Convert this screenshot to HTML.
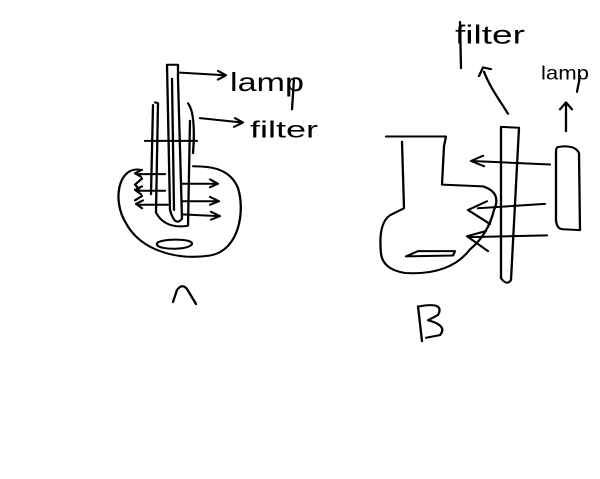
<!DOCTYPE html>
<html><head><style>html,body{margin:0;padding:0;background:#fff}svg{display:block}</style></head>
<body>
<svg width="600" height="479" viewBox="0 0 600 479" xmlns="http://www.w3.org/2000/svg">
<g transform="scale(1,0.875)">
<g fill="none" stroke="#000" stroke-width="2.3" stroke-linecap="round" stroke-linejoin="round">
<!-- A: lamp tube -->
<path d="M167,74 L178,74 L178,90 M167,74 L170,240 Q175,260 182,250 L178,90"/>
<path d="M172,90 L174,240"/>
<!-- A filter -->
<path d="M155,117 L158,118 L156,243 Q165,262 188,258 L190,138 M188,118 Q196,130 193,175"/>
<path d="M153,120 L151,222"/>
<path d="M145,161 L197,161"/>
<!-- A flask -->
<path d="M140,194 C118,190 112,230 126,255 C140,285 175,298 210,292 C240,286 245,240 238,215 C230,192 210,190 193,190"/>
<path d="M157,278 C160,273 190,272 192,278 C192,286 160,286 157,280 Z"/>
<!-- A arrows left -->
<path d="M165,199 L136,199 M142,194 L135,198 L141,202"/>
<path d="M165,218 L136,218 M142,213 L135,217 L141,222"/>
<path d="M168,234 L138,234 M143,229 L136,233 L142,238"/>
<path d="M142,204 L135,211 L139,216 M142,224 L135,229"/>
<!-- A arrows right -->
<path d="M182,210 L217,210 M210,205 L218,210 L210,214"/>
<path d="M182,230 L218,230 M210,225 L219,230 L210,234"/>
<path d="M182,245 L219,247 M211,242 L220,247 L211,251"/>
<!-- A label arrows -->
<path d="M180,83 L225,86 M218,81 L226,86 L218,91"/>
<path d="M200,135 L242,140 M235,135 L243,140 L234,145"/>
<path d="M294,90 L292,125"/>

<!-- B flask -->
<path d="M386,156 L446,156 L444,167 L442,211 L483,213 Q502,220 494,240 Q488,268 470,285 Q450,315 405,312 Q383,308 381,290 Q378,255 390,246 L404,238 L402,162"/>
<path d="M406,293 L418,287 L455,287 L453,292 Z"/>
<!-- B filter -->
<path d="M501,145 L519,146 L511,320 Q507,327 501,318 Z"/>
<!-- B lamp -->
<path d="M558,168 Q575,165 579,175 L580,263 L563,262 Q557,262 556,252 L556,175 Q556,168 558,168 Z"/>
<!-- B arrows -->
<path d="M550,188 L472,184 M483,178 L471,184 L484,190"/>
<path d="M545,233 L478,238 M487,230 L468,240 L490,256"/>
<path d="M547,269 L470,271 M486,264 L467,270 L488,287"/>
<!-- B label arrows -->
<path d="M508,130 C500,115 490,100 484,82 M479,87 L483,77 L491,79"/>
<path d="M566,150 L566,118 M560,125 L566,117 L572,125"/>
<path d="M580,87 L577,105"/>
<path d="M460,25 L461,78"/>
<!-- B letter -->
<path d="M418,350 L422,390 M420,350 Q445,345 438,360 L428,366 Q448,372 440,383 L426,386"/>
</g>
<g font-family="Liberation Sans, sans-serif" fill="#000">
<text x="230" y="104" font-size="30" textLength="74" lengthAdjust="spacingAndGlyphs">lamp</text>
<text x="250" y="157" font-size="26" textLength="68" lengthAdjust="spacingAndGlyphs">filter</text>
<text x="455" y="50" font-size="30" textLength="70" lengthAdjust="spacingAndGlyphs">filter</text>
<text x="541" y="91" font-size="22" textLength="48" lengthAdjust="spacingAndGlyphs">lamp</text>
</g>
</g>
<path d="M173,302 L177,290 Q182,283 187,289 L196,304" fill="none" stroke="#000" stroke-width="2.3" stroke-linecap="round" stroke-linejoin="round"/>
</svg>
</body></html>
